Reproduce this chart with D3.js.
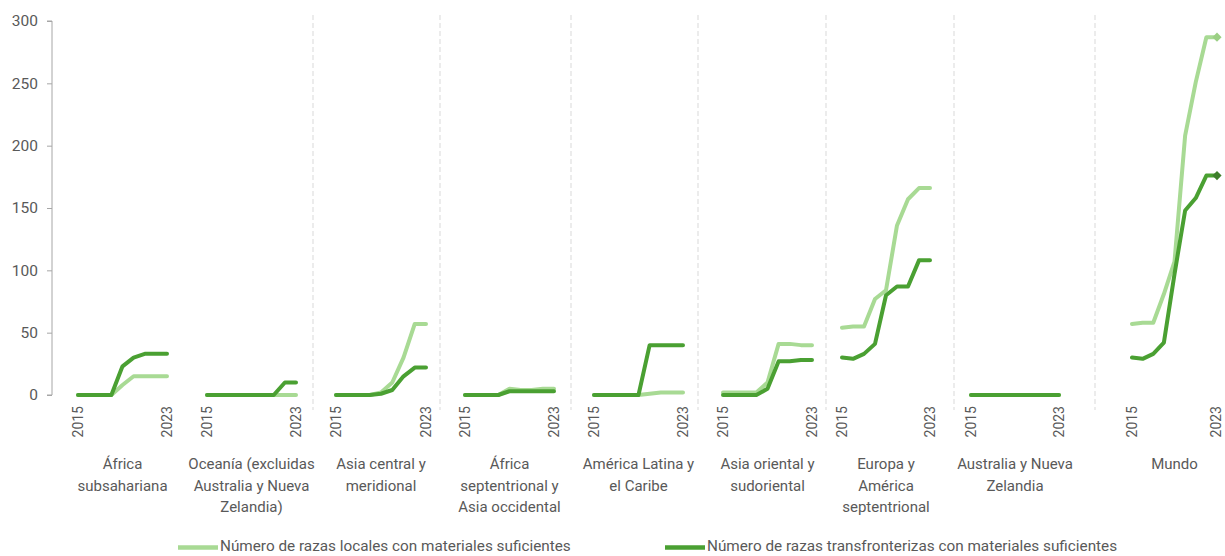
<!DOCTYPE html>
<html><head><meta charset="utf-8">
<script src="https://cdn.jsdelivr.net/npm/d3@7"></script>
<style>
body{margin:0;background:#fff}
svg{display:block}
text{font-family:Roboto, "Open Sans", sans-serif; fill:#595959}
</style>
</head><body><svg id="c" width="1225" height="556"></svg>
<script>
// ---------- DATA ----------
const years = [2015, 2016, 2017, 2018, 2019, 2020, 2021, 2022, 2023];
const yearTickLabels = [2015, 2023];
const regions = [
  ["África", "subsahariana"],
  ["Oceanía (excluidas", "Australia y Nueva", "Zelandia)"],
  ["Asia central y", "meridional"],
  ["África", "septentrional y", "Asia occidental"],
  ["América Latina y", "el Caribe"],
  ["Asia oriental y", "sudoriental"],
  ["Europa y", "América", "septentrional"],
  ["Australia y Nueva", "Zelandia"],
  ["Mundo"]
];
// Número de razas locales con materiales suficientes (per region, 2015-2023)
const localBreeds = [
  [0, 0, 0, 0, 8, 15, 15, 15, 15],
  [0, 0, 0, 0, 0, 0, 0, 0, 0],
  [0, 0, 0, 0, 2, 10, 30, 57, 57],
  [0, 0, 0, 0, 5, 4, 4, 5, 5],
  [0, 0, 0, 0, 0, 1, 2, 2, 2],
  [2, 2, 2, 2, 10, 41, 41, 40, 40],
  [54, 55, 55, 77, 84, 136, 157, 166, 166],
  [0, 0, 0, 0, 0, 0, 0, 0, 0],
  [57, 58, 58, 81, 107, 208, 251, 287, 287]
];
// Número de razas transfronterizas con materiales suficientes
const transBreeds = [
  [0, 0, 0, 0, 23, 30, 33, 33, 33],
  [0, 0, 0, 0, 0, 0, 0, 10, 10],
  [0, 0, 0, 0, 1, 4, 15, 22, 22],
  [0, 0, 0, 0, 3, 3, 3, 3, 3],
  [0, 0, 0, 0, 0, 40, 40, 40, 40],
  [0, 0, 0, 0, 5, 27, 27, 28, 28],
  [30, 29, 33, 41, 80, 87, 87, 108, 108],
  [0, 0, 0, 0, 0, 0, 0, 0, 0],
  [30, 29, 33, 42, 97, 148, 158, 176, 176]
];
const yTicks = [0, 50, 100, 150, 200, 250, 300];
const seriesNames = [
  "Número de razas locales con materiales suficientes",
  "Número de razas transfronterizas con materiales suficientes"
];

// ---------- LAYOUT / STYLE ----------
const plotTop = 21, plotBottom = 395, axisX = 52;
const panelLeft = [78, 207, 336, 465, 594, 723, 842, 971, 1132];
const panelRight = [167, 296, 426, 554, 683, 812, 930, 1059, 1217];
const dividerX = [313, 440, 571, 698, 826, 954, 1095];
const lightColor = "#a8da94", darkColor = "#4aa032";
const lightMarker = "#9bcf84", darkMarker = "#3e7f2b";

const svg = d3.select("#c");
svg.append("rect").attr("width", 1225).attr("height", 556).attr("fill", "#fff");

const y = d3.scaleLinear().domain([0, 300]).range([plotBottom, plotTop]);

// dividers
svg.selectAll("line.div").data(dividerX).join("line")
  .attr("x1", d => d).attr("x2", d => d)
  .attr("y1", 15).attr("y2", 410)
  .attr("stroke", "#d9d9d9").attr("stroke-width", 1)
  .attr("stroke-dasharray", "5,3");

// y axis
const yAxis = d3.axisLeft(y).tickValues(yTicks).tickSize(5).tickPadding(9);
const ga = svg.append("g").attr("transform", `translate(${axisX},0)`).call(yAxis);
ga.select(".domain").attr("stroke", "#a6a6a6").attr("d", `M-5,${plotTop}H0V${plotBottom}H-5`);
ga.selectAll(".tick line").attr("stroke", "#a6a6a6");
ga.selectAll(".tick text").attr("fill", "#595959").style("font-size", "15.5px")
  .style("font-family", "Roboto, sans-serif");

// panels
regions.forEach((lab, i) => {
  const x = d3.scaleLinear().domain([years[0], years[years.length - 1]])
    .range([panelLeft[i], panelRight[i]]);
  const g = svg.append("g");
  const line = d3.line().x((d, k) => x(years[k])).y(d => y(d));
  g.append("path").datum(localBreeds[i]).attr("d", line)
    .attr("fill", "none").attr("stroke", lightColor).attr("stroke-width", 4)
    .attr("stroke-linejoin", "round").attr("stroke-linecap", "round");
  g.append("path").datum(transBreeds[i]).attr("d", line)
    .attr("fill", "none").attr("stroke", darkColor).attr("stroke-width", 4)
    .attr("stroke-linejoin", "round").attr("stroke-linecap", "round");

  // year tick labels
  yearTickLabels.forEach(yr => {
    g.append("text")
      .attr("transform", `translate(${Math.min(x(yr), 1216)},406) rotate(-90)`)
      .attr("text-anchor", "end").attr("dy", "0.35em")
      .style("font-size", "14px").text(yr);
  });

  // category label
  const cx = (panelLeft[i] + panelRight[i]) / 2;
  const t = g.append("text").attr("text-anchor", "middle").style("font-size", "15px");
  lab.forEach((s, k) => {
    t.append("tspan").attr("x", cx).attr("y", 469 + k * 21.5).text(s);
  });

  // end markers for Mundo
  if (i === regions.length - 1) {
    const last = years.length - 1;
    [[localBreeds[i][last], lightMarker], [transBreeds[i][last], darkMarker]].forEach(([v, c]) => {
      g.append("path").attr("d", d3.symbol(d3.symbolSquare, 42)())
        .attr("transform", `translate(${x(years[last])},${y(v)}) rotate(45)`)
        .attr("fill", c);
    });
  }
});

// legend
const legendX = [178, 665];
const legend = svg.append("g");
seriesNames.forEach((name, i) => {
  legend.append("line").attr("x1", legendX[i]).attr("x2", legendX[i] + 40)
    .attr("y1", 547.5).attr("y2", 547.5)
    .attr("stroke", i === 0 ? lightColor : darkColor).attr("stroke-width", 4.5);
  legend.append("text").attr("x", legendX[i] + 42).attr("y", 546).attr("dy", "0.35em")
    .style("font-size", "15.3px").text(name);
});
</script>
</body></html>
